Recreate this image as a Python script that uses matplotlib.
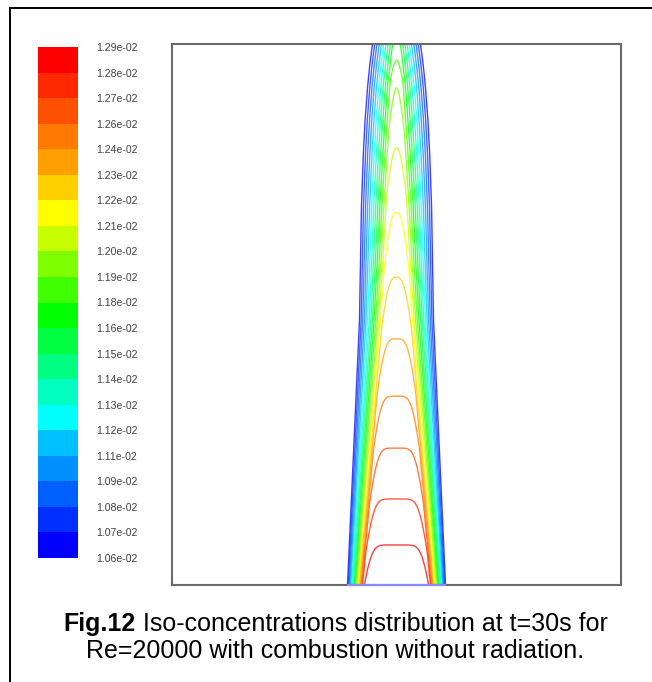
import numpy as np
import matplotlib
matplotlib.use("Agg")
import matplotlib.pyplot as plt
from matplotlib.colors import ListedColormap, BoundaryNorm
from matplotlib.lines import Line2D
import matplotlib.colorbar as mcolorbar

# ---------------- data ----------------
# contour levels (in units of 1e-2)
level_values = [1.0600, 1.0715, 1.0830, 1.0945, 1.1060, 1.1175, 1.1290, 1.1405, 1.1520, 1.1635,
                1.1750, 1.1865, 1.1980, 1.2095, 1.2210, 1.2325, 1.2440, 1.2555, 1.2670, 1.2785, 1.2900]
level_labels = ["1.06e-02", "1.07e-02", "1.08e-02", "1.09e-02", "1.11e-02", "1.12e-02", "1.13e-02",
                "1.14e-02", "1.15e-02", "1.16e-02", "1.18e-02", "1.19e-02", "1.20e-02", "1.21e-02",
                "1.22e-02", "1.23e-02", "1.24e-02", "1.26e-02", "1.27e-02", "1.28e-02", "1.29e-02"]
band_colors = ["#0000FF", "#0030FF", "#0060FF", "#0090FF", "#00C0FF", "#00FFFF", "#00FFC0",
               "#00FF80", "#00FF40", "#00FF00", "#40FF00", "#80FF00", "#C8FF00", "#FFFF00",
               "#FFD000", "#FFA000", "#FF7800", "#FF5000", "#FF2800", "#FF0000"]

domain_width = 0.83
domain_height = 1.0
jet_axis_x = 0.415

# centre-line concentration (x1e-2) versus height
axis_height = [0.000, 0.074, 0.159, 0.253, 0.349, 0.455, 0.569, 0.689, 0.808, 0.919, 0.970, 1.000]
axis_conc = [1.2885, 1.2785, 1.2670, 1.2555, 1.2440, 1.2325, 1.2210, 1.2095, 1.1980, 1.1865, 1.1750, 1.1682]

# half width of the outermost (1.06e-02) iso-line versus height
edge_height = [0.000, 0.244, 0.490, 0.700, 0.800, 0.860, 0.920, 0.960, 1.000]
edge_halfwidth = [0.0906, 0.0795, 0.0684, 0.0648, 0.0612, 0.0580, 0.0535, 0.0495, 0.0444]

# potential-core description versus height
core_height = [0.0, 0.35, 0.60, 1.0]
core_fraction = [0.68, 0.48, 0.33, 0.18]
core_exponent = [8.0, 5.0, 2.6, 1.8]
core_drop = 0.06

caption_bold = "Fig.12"
caption_line1 = " Iso-concentrations distribution at t=30s for"
caption_line2 = "Re=20000 with combustion without radiation."

# ---------------- figure ----------------
W, H = 652, 682
fig = plt.figure(figsize=(W / 100, H / 100), dpi=100)
fig.patch.set_facecolor("white")

# outer frame (left and top edges visible)
fig.add_artist(Line2D([9.5 / W, 9.5 / W], [0, 1 - 7.5 / H], transform=fig.transFigure,
                      color="black", lw=1.4))
fig.add_artist(Line2D([9.5 / W, 1], [1 - 7.5 / H, 1 - 7.5 / H], transform=fig.transFigure,
                      color="black", lw=1.4))

# main contour axes
ax = fig.add_axes([172 / W, (H - 585) / H, 449 / W, 541 / H])
xg = np.linspace(0, domain_width, 2400)
yg = np.linspace(0, domain_height, 900)
X, Y = np.meshgrid(xg, yg)
R = np.interp(Y, edge_height, edge_halfwidth)
a = np.interp(Y, core_height, core_fraction)
q = np.interp(Y, core_height, core_exponent)
cc = np.interp(Y, axis_height, axis_conc)
lmin = level_values[0]
u = np.abs(X - jet_axis_x) / R
g = np.where(u < a, core_drop * (u / a) ** q,
             core_drop + (1 - core_drop) * (u - a) / (1 - a))
C = lmin + (cc - lmin) * (1 - g)

line_colors = [band_colors[min(k, len(band_colors) - 1)] for k in range(len(level_values))]
ax.contour(X, Y, C, levels=level_values, colors=line_colors, linewidths=1.0, alpha=0.75)

# inlet segment on the bottom boundary
r0 = edge_halfwidth[0]
ax.hlines(0, jet_axis_x - r0, jet_axis_x + r0, colors="#8a8aff", lw=1.6, zorder=5, clip_on=False)

ax.set_xlim(0, domain_width)
ax.set_ylim(0, domain_height)
ax.set_xticks([])
ax.set_yticks([])
for sp in ax.spines.values():
    sp.set_color("#6a6a6a")
    sp.set_linewidth(1.5)

# colour bar
cax = fig.add_axes([38 / W, (H - 558) / H, 40 / W, 511 / H])
cmap = ListedColormap(band_colors)
norm = BoundaryNorm(level_values, cmap.N)
cb = mcolorbar.ColorbarBase(cax, cmap=cmap, norm=norm, orientation="vertical",
                            ticks=level_values, spacing="uniform")
cb.outline.set_visible(False)
cb.set_ticklabels(level_labels)
cax.tick_params(length=0, pad=13, labelsize=7.6, labelcolor="#404040")
for t in cax.get_yticklabels():
    t.set_fontfamily("Liberation Sans")

# caption
fs = 18
cx = 335.5 / W
y1 = (H - 631) / H
y2 = (H - 658) / H
t1 = fig.text(0, y1, caption_bold, fontsize=fs, fontweight="bold", family="Liberation Sans",
              ha="left", va="baseline")
t2 = fig.text(0, y1, caption_line1, fontsize=fs, family="Liberation Sans",
              ha="left", va="baseline")
r = fig.canvas.get_renderer()
w1 = t1.get_window_extent(r).width
w2 = t2.get_window_extent(r).width
x0 = cx * W - (w1 + w2) / 2
t1.set_x(x0 / W)
t2.set_x((x0 + w1) / W)
fig.text(cx, y2, caption_line2, fontsize=fs, family="Liberation Sans", ha="center", va="baseline")

fig.savefig("out.png", dpi=100, facecolor="white")
